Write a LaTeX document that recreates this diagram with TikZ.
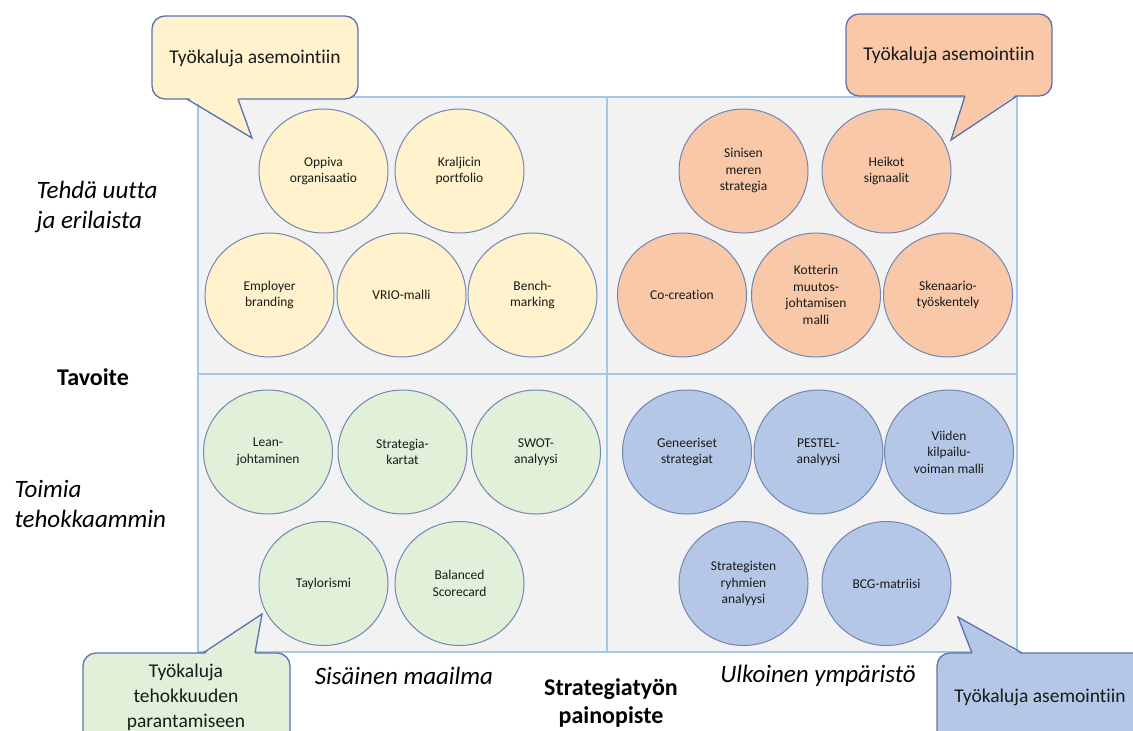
\documentclass[tikz,border=0pt]{standalone}
\usepackage{fontspec}
\setmainfont{Carlito}[Ligatures={NoCommon}]
\usetikzlibrary{shapes.geometric}
\definecolor{gridfill}{HTML}{F2F2F2}
\definecolor{gridline}{HTML}{A4C6E8}
\definecolor{cyel}{HTML}{FFF2CC}
\definecolor{corg}{HTML}{F9C8A8}
\definecolor{cgrn}{HTML}{E2F0D9}
\definecolor{cblu}{HTML}{B4C7E7}
\definecolor{cline}{HTML}{7286B4}
\definecolor{bline}{HTML}{5A73AE}
\definecolor{txt}{HTML}{1A1A1A}
\begin{document}
\begin{tikzpicture}[x=1pt,y=-1pt,
  tool/.style={ellipse, draw=cline, line width=1pt, minimum width=129pt, minimum height=124pt,
    inner sep=0pt, align=center, text=txt, font=\fontsize{13.5}{16.5}\selectfont},
  callbox/.style={draw=bline, line width=1.3pt, rounded corners=13pt},
  calledge/.style={draw=bline, line width=1.3pt, line join=miter},
  calltext/.style={text=txt, align=center, font=\fontsize{19.5}{25}\selectfont},
  sidelabel/.style={text=black, anchor=west, align=left, font=\fontsize{25}{30.5}\selectfont\itshape},
  axislabel/.style={text=black, align=center, font=\fontsize{25}{30}\selectfont\itshape},
  boldlabel/.style={text=black, align=center, font=\fontsize{24}{28.5}\selectfont\bfseries}]
\clip (0,0) rectangle (1133,731);
\useasboundingbox (0,0) rectangle (1133,731);

% grid
\fill[gridfill] (198,97) rectangle (1017,652);
\draw[gridline, line width=1.5pt] (198,97) rectangle (1017,652);
\draw[gridline, line width=1.5pt] (607,97) -- (607,652);
\draw[gridline, line width=1.5pt] (198,374) -- (1017,374);

% yellow
\node[tool, fill=cyel] (o1) at (323.5,171) {Oppiva\\organisaatio};
\node[tool, fill=cyel] (o2) at (459.5,171) {Kraljicin\\portfolio};
\node[tool, fill=cyel] (o3) at (269.5,295) {Employer\\branding};
\node[tool, fill=cyel] (o4) at (401.5,295) {VRIO-malli};
\node[tool, fill=cyel] (o5) at (532.5,295) {Bench-\\marking};
% orange
\node[tool, fill=corg] (r1) at (743.5,171) {Sinisen\\meren\\strategia};
\node[tool, fill=corg] (r2) at (886.5,171) {Heikot\\signaalit};
\node[tool, fill=corg] (r3) at (682,295) {Co-creation};
\node[tool, fill=corg] (r4) at (816,295) {Kotterin\\muutos-\\johtamisen\\malli};
\node[tool, fill=corg] (r5) at (948,295) {Skenaario-\\työskentely};
% green
\node[tool, fill=cgrn] (g1) at (268,452) {Lean-\\johtaminen};
\node[tool, fill=cgrn] (g2) at (402.5,452) {Strategia-\\kartat};
\node[tool, fill=cgrn] (g3) at (536,452) {SWOT-\\analyysi};
\node[tool, fill=cgrn] (g4) at (323.5,583.5) {Taylorismi};
\node[tool, fill=cgrn] (g5) at (459.5,583.5) {Balanced\\Scorecard};
% blue
\node[tool, fill=cblu] (b1) at (687,452) {Geneeriset\\strategiat};
\node[tool, fill=cblu] (b2) at (818.5,452) {PESTEL-\\analyysi};
\node[tool, fill=cblu] (b3) at (949,452) {Viiden\\kilpailu-\\voiman malli};
\node[tool, fill=cblu] (b4) at (743.5,583.5) {Strategisten\\ryhmien\\analyysi};
\node[tool, fill=cblu] (b5) at (886.5,583.5) {BCG-matriisi};

% callout yellow (top left)
\filldraw[callbox, fill=cyel] (152,16) rectangle (358,99);
\fill[cyel] (187,97) -- (252,138) -- (238,97) -- cycle;
\draw[calledge] (187,99) -- (252,138) -- (238,99);
\node[calltext] (cy) at (255,58) {Työkaluja asemointiin};

% callout orange (top right)
\filldraw[callbox, fill=corg] (846,14) rectangle (1052,96);
\fill[corg] (965,94) -- (951,140) -- (1017,94) -- cycle;
\draw[calledge] (965,96) -- (951,140) -- (1017,96);
\node[calltext] (co) at (949,55) {Työkaluja asemointiin};

% callout green (bottom left)
\filldraw[callbox, fill=cgrn] (83,653) rectangle (290,775);
\fill[cgrn] (203,655) -- (262,614) -- (255,655) -- cycle;
\draw[calledge] (203,653) -- (262,614) -- (255,653);
\node[calltext] (cg) at (186,697) {Työkaluja\\tehokkuuden\\parantamiseen};

% callout blue (bottom right)
\filldraw[callbox, fill=cblu] (937,653) rectangle (1160,775);
\fill[cblu] (972,655) -- (958,617) -- (1022,655) -- cycle;
\draw[calledge] (972,653) -- (958,617) -- (1022,653);
\node[calltext] (cb) at (1040,697) {Työkaluja asemointiin};

% labels
\node[sidelabel] (l1) at (33,207) {Tehdä uutta\\ja erilaista};
\node[boldlabel] (l2) at (93,377) {Tavoite};
\node[sidelabel] (l3) at (11,504) {Toimia\\tehokkaammin};
\node[axislabel] (l4) at (404,676) {Sisäinen maailma};
\node[boldlabel] (l5) at (611,703) {Strategiatyön\\painopiste};
\node[axislabel] (l6) at (818,676) {Ulkoinen ympäristö};
\end{tikzpicture}
\end{document}
